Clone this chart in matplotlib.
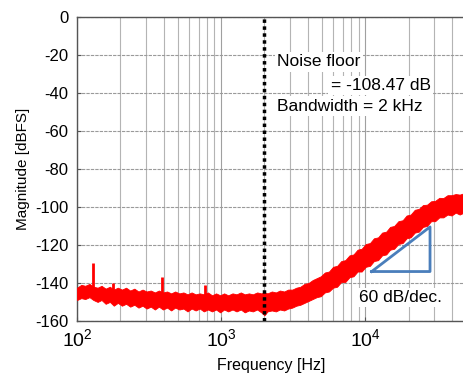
import matplotlib
matplotlib.use("Agg")
import matplotlib.pyplot as plt
from matplotlib.ticker import LogLocator, NullFormatter

plt.rcParams['font.family'] = ['Liberation Sans', 'DejaVu Sans']
plt.rcParams['mathtext.fontset'] = 'custom'
plt.rcParams['mathtext.rm'] = 'Liberation Sans'
plt.rcParams['mathtext.it'] = 'Liberation Sans'
plt.rcParams['axes.unicode_minus'] = False

# --- data ---
freq = [100, 107, 114, 122, 130, 139, 148, 158, 169, 180,
        192, 205, 219, 234, 250, 267, 285, 304, 325, 347,
        370, 395, 422, 450, 480, 513, 548, 585, 624, 666,
        711, 759, 810, 865, 923, 985, 1050, 1120, 1200, 1280,
        1370, 1460, 1560, 1660, 1780, 1900, 2000, 2100, 2250, 2400,
        2560, 2740, 2920, 3120, 3330, 3550, 3790, 4050, 4320, 4610,
        4920, 5250, 5610, 5990, 6390, 6820, 7280, 7780, 8300, 8860,
        9460, 10100, 10800, 11500, 12300, 13100, 14000, 14900, 15900, 17000,
        18200, 19400, 20700, 22100, 23600, 25200, 26900, 28700, 30600, 32700,
        34900, 37300, 39800, 42500, 45300, 48400, 50000]
upper = [-142.5, -141, -141.5, -140.5, -142, -142.5, -141.5, -143, -142, -143.5,
         -142.5, -143.5, -142.5, -144, -143, -144.5, -143.5, -144.5, -144, -145,
         -144, -145, -144.5, -145.5, -144.5, -145.5, -145, -146, -145, -146,
         -145.5, -146, -145, -146.5, -145.5, -146.5, -145.5, -146.5, -145.5, -146,
         -145, -146, -145.5, -146, -145, -145.5, -145, -145.5, -144.5, -145,
         -144, -144.5, -143.5, -143.5, -142.5, -142, -140.5, -140, -138.5, -137.5,
         -136.5, -134.5, -134, -131.5, -131, -128.5, -128, -125.5, -125, -122.5,
         -122, -119.5, -119, -116.5, -116, -113.5, -113, -110.5, -110, -107.5,
         -107, -104.5, -104, -101.5, -101, -99, -98.8, -97, -96.8, -95.2,
         -95.3, -93.8, -93.8, -93.2, -93.5, -92.8, -93]
lower = [-149, -148, -148.5, -147.5, -149, -150, -149, -151, -150, -152,
         -150.5, -152, -151, -152.5, -151.5, -153, -152, -153.5, -152.5, -154,
         -152.5, -154, -153, -154.5, -153, -154, -153.5, -155, -153.5, -154.5,
         -153.5, -155, -154, -155, -154, -155.5, -154, -155, -154, -155,
         -154, -155.5, -154.5, -155, -154, -155.5, -157, -155, -154.5, -155,
         -154, -154.5, -153.5, -153, -152, -151.5, -150.5, -149.5, -148.5, -147.5,
         -147, -145, -144.5, -142.5, -142, -139.5, -139.5, -137, -136.5, -134,
         -134, -131.5, -131, -128.5, -128, -125.5, -125, -122.5, -122, -119.5,
         -119, -116.5, -116, -113.5, -113, -110.5, -110, -107.5, -107.5, -105.5,
         -105.5, -104, -104.5, -103, -104, -103, -103.5]

spike_freq = [130, 178, 387, 770]
spike_peak = [-129.5, -140, -137, -141]
spike_base = [-146, -147, -148, -148]

bw_freq = 2000
tri_freq = [11100, 28200, 28200, 11100]
tri_mag = [-134, -134, -110.5, -134]

xticks = [1e2, 1e3, 1e4]
xticklabels = [r'$10^{2}$', r'$10^{3}$', r'$10^{4}$']
yticks = [0, -20, -40, -60, -80, -100, -120, -140, -160]

fig = plt.figure(figsize=(4.64, 3.78), dpi=100)
ax = fig.add_axes([0.166, 0.151, 0.838, 0.804])

ax.set_xscale('log')
ax.set_xlim(100, 50000)
ax.set_ylim(-160, 0)

# grid
ax.xaxis.set_minor_locator(LogLocator(base=10, subs=range(2, 10)))
ax.xaxis.set_minor_formatter(NullFormatter())
ax.grid(True, which='major', axis='x', color='#a0a0a0', lw=0.8)
ax.grid(True, which='minor', axis='x', color='#b4b4b4', lw=0.8)
ax.grid(True, which='major', axis='y', color='#9a9a9a', lw=0.8, linestyle=(0, (3, 1)))
ax.set_axisbelow(True)

ax.fill_between(freq, lower, upper, color='#ff0000', lw=0.6, edgecolor='#ff0000', zorder=3)
ax.vlines(spike_freq, spike_base, spike_peak, color='#ff0000', lw=2.0, zorder=3)

ax.axvline(bw_freq, color='black', lw=2.5, linestyle=(0, (1, 1)), zorder=4)

ax.plot(tri_freq, tri_mag, color='#4a7ebb', lw=2, zorder=5)

ax.set_xticks(xticks)
ax.set_xticklabels(xticklabels)
ax.set_yticks(yticks)
ax.tick_params(axis='both', which='major', labelsize=12, direction='in', length=3, color='#555555', pad=6)
ax.tick_params(axis='x', which='minor', direction='in', length=0)
ax.tick_params(axis='x', which='major', labelsize=14, pad=5)
for s in ax.spines.values():
    s.set_color('#555555')
    s.set_linewidth(1.0)

ax.set_xlabel('Frequency [Hz]', fontsize=11.5, labelpad=6)
ax.set_ylabel('Magnitude [dBFS]', fontsize=11, labelpad=4)

bb = dict(facecolor='white', edgecolor='none', pad=1.5)
ax.text(0.515, 0.852, 'Noise floor', transform=ax.transAxes, fontsize=12.5,
        va='center', ha='left', bbox=bb, zorder=6)
ax.text(0.652, 0.776, '= -108.47 dB', transform=ax.transAxes, fontsize=12.5,
        va='center', ha='left', bbox=bb, zorder=6)
ax.text(0.515, 0.707, 'Bandwidth = 2 kHz', transform=ax.transAxes, fontsize=12.5,
        va='center', ha='left', bbox=bb, zorder=6)
ax.text(0.726, 0.076, '60 dB/dec.', transform=ax.transAxes, fontsize=12.5,
        va='center', ha='left', bbox=bb, zorder=6)

fig.savefig('out.png', dpi=100)
